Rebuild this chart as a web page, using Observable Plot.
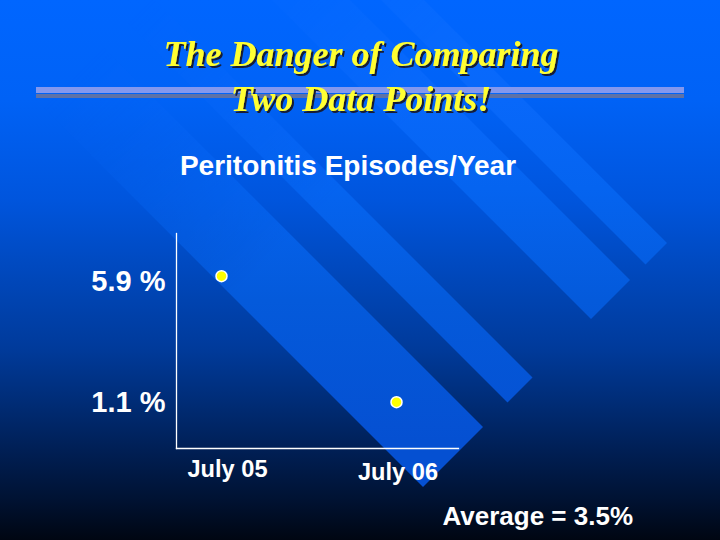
<!DOCTYPE html>
<html>
<head>
<meta charset="utf-8">
<script src="https://cdn.jsdelivr.net/npm/d3@7"></script>
<script src="https://cdn.jsdelivr.net/npm/@observablehq/plot@0.6"></script>
<style>
  html, body { margin: 0; padding: 0; background: #000612; }
  #slide { position: relative; width: 720px; height: 540px; overflow: hidden; }
  #deco, #chart svg { position: absolute; left: 0; top: 0; }
</style>
</head>
<body>
<div id="slide">
<svg id="deco" width="720" height="540" viewBox="0 0 720 540">
  <defs>
    <linearGradient id="bg" gradientUnits="userSpaceOnUse" x1="0" y1="0" x2="0" y2="540">
      <stop offset="0" stop-color="#0066ff"/>
      <stop offset="0.185" stop-color="#0062f6"/>
      <stop offset="0.37" stop-color="#0055dd"/>
      <stop offset="0.556" stop-color="#0043b0"/>
      <stop offset="0.648" stop-color="#003a9a"/>
      <stop offset="0.74" stop-color="#002d78"/>
      <stop offset="0.833" stop-color="#001f55"/>
      <stop offset="0.926" stop-color="#001232"/>
      <stop offset="1" stop-color="#000612"/>
    </linearGradient>
    <linearGradient id="band" gradientUnits="userSpaceOnUse" x1="0" y1="0" x2="0" y2="540">
      <stop offset="0" stop-color="#086bff"/>
      <stop offset="0.185" stop-color="#0868fa"/>
      <stop offset="0.35" stop-color="#0564f0"/>
      <stop offset="0.556" stop-color="#045adb"/>
      <stop offset="0.815" stop-color="#0550d2"/>
      <stop offset="1" stop-color="#0550d2"/>
    </linearGradient>
    <linearGradient id="fade" gradientUnits="userSpaceOnUse" x1="75" y1="75" x2="455" y2="455">
      <stop offset="0" stop-color="#000"/>
      <stop offset="0.15" stop-color="#333"/>
      <stop offset="0.35" stop-color="#aaa"/>
      <stop offset="0.5" stop-color="#fff"/>
      <stop offset="1" stop-color="#fff"/>
    </linearGradient>
    <mask id="bandMask" maskUnits="userSpaceOnUse" x="0" y="0" width="720" height="540">
      <rect x="0" y="0" width="720" height="540" fill="url(#fade)"/>
    </mask>
    <filter id="shadow" x="-10%" y="-30%" width="120%" height="160%">
      <feDropShadow dx="2" dy="2" stdDeviation="0.3" flood-color="#161b36" flood-opacity="1"/>
    </filter>
  </defs>
  <rect x="0" y="0" width="720" height="540" fill="url(#bg)"/>
  <g fill="url(#band)" mask="url(#bandMask)">
    <polygon points="667,243 645.5,264.5 265.5,-115.5 287,-137"/>
    <polygon points="630,280 591,319 211,-61 250,-100"/>
    <polygon points="532.5,377.5 507.5,402.5 127.5,22.5 152.5,-2.5"/>
    <polygon points="483,427 423,487 43,107 103,47"/>
  </g>
  <rect x="36" y="87" width="648" height="6" fill="#8398ee"/>
  <rect x="36" y="94" width="648" height="4" fill="#5f72a6"/>
  <g id="texts"></g>
</svg>
<div id="chart"></div>
</div>
<script>
// ---- data ----
const titleLines = ["The Danger of Comparing", "Two Data Points!"];
const subtitle = "Peritonitis Episodes/Year";
const caption = "Average = 3.5%";
const categories = ["July 05", "July 06"];
const values = [5.9, 1.1];
const yTickLabels = ["5.9 %", "1.1 %"];

// ---- slide text ----
const ns = "http://www.w3.org/2000/svg";
const tg = document.getElementById("texts");
function addText(str, x, y, attrs) {
  const t = document.createElementNS(ns, "text");
  t.setAttribute("x", x); t.setAttribute("y", y);
  for (const k in attrs) t.setAttribute(k, attrs[k]);
  t.textContent = str;
  tg.appendChild(t);
  return t;
}
const titleStyle = {"font-family": "'Liberation Serif', 'Times New Roman', serif", "font-size": 36,
  "font-weight": "bold", "font-style": "italic", "text-anchor": "middle",
  fill: "#ffff33", filter: "url(#shadow)"};
titleLines.forEach((s, i) => addText(s, 361, [66, 111][i], titleStyle));
const sans = "'Liberation Sans', Arial, sans-serif";
addText(subtitle, 348, 175, {"font-family": sans, "font-size": 28, "font-weight": "bold",
  fill: "white", "text-anchor": "middle"});
addText(caption, 633, 525, {"font-family": sans, "font-size": 26, "font-weight": "bold",
  fill: "white", "text-anchor": "end"});

// ---- chart ----
const data = categories.map((c, i) => ({month: c, rate: values[i]}));
const yFmt = d => yTickLabels[values.indexOf(d)];
const axisFont = {fontFamily: sans, fontWeight: "bold"};

const chart = Plot.plot({
  width: 720,
  height: 540,
  marginLeft: 176,
  marginRight: 262,
  marginTop: 233,
  marginBottom: 92,
  style: {background: "transparent", color: "white", fontFamily: sans, overflow: "visible"},
  x: {type: "point", domain: categories, range: [221, 396], padding: 0},
  y: {domain: [values[1], values[0]], range: [401.7, 275.7]},
  marks: [
    Plot.frame({anchor: "left", stroke: "white", strokeWidth: 1.3}),
    Plot.frame({anchor: "bottom", stroke: "white", strokeWidth: 1.3}),
    Plot.axisY({ticks: [values[0]], tickFormat: yFmt, tickSize: 0, tickPadding: 11,
      fontSize: 29, dy: 6, label: null, fill: "white", ...axisFont}),
    Plot.axisY({ticks: [values[1]], tickFormat: yFmt, tickSize: 0, tickPadding: 11,
      fontSize: 29, dy: 0.5, label: null, fill: "white", ...axisFont}),
    Plot.axisX({ticks: [categories[0]], tickSize: 0, tickPadding: 12, dx: 6,
      fontSize: 23.6, label: null, fill: "white", ...axisFont}),
    Plot.axisX({ticks: [categories[1]], tickSize: 0, tickPadding: 12, dx: 1.5, dy: 3,
      fontSize: 23.6, label: null, fill: "white", ...axisFont}),
    Plot.dot(data, {x: "month", y: "rate", r: 5.5, fill: "#ffff00", stroke: "white", strokeWidth: 1.5})
  ]
});
document.getElementById("chart").appendChild(chart);
</script>
</body>
</html>
